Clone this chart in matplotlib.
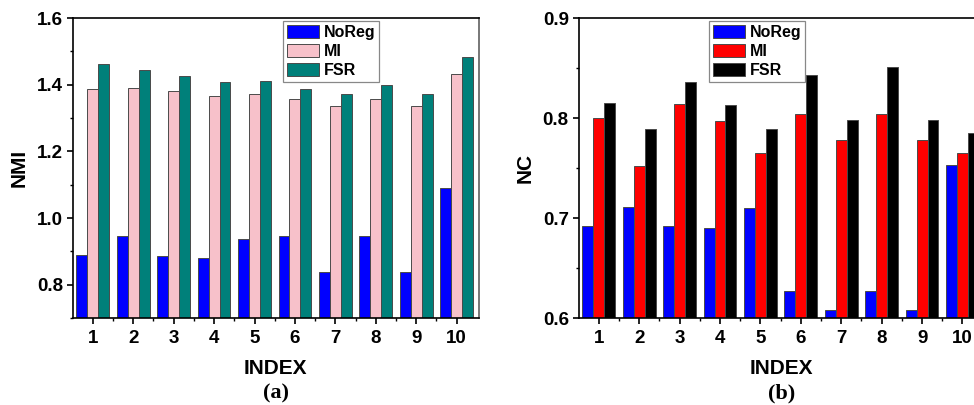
import numpy as np
import matplotlib
matplotlib.use("Agg")
import matplotlib.pyplot as plt
import matplotlib.ticker as ticker

# values
index = [1, 2, 3, 4, 5, 6, 7, 8, 9, 10]
series = ["NoReg", "MI", "FSR"]

nmi_noreg = [0.888, 0.945, 0.885, 0.880, 0.937, 0.947, 0.837, 0.947, 0.837, 1.089]
nmi_mi = [1.386, 1.389, 1.381, 1.365, 1.372, 1.357, 1.335, 1.357, 1.335, 1.433]
nmi_fsr = [1.462, 1.445, 1.426, 1.407, 1.410, 1.386, 1.373, 1.399, 1.373, 1.482]

nc_noreg = [0.692, 0.711, 0.692, 0.690, 0.710, 0.627, 0.608, 0.627, 0.608, 0.753]
nc_mi = [0.800, 0.752, 0.814, 0.797, 0.765, 0.804, 0.778, 0.804, 0.778, 0.765]
nc_fsr = [0.815, 0.789, 0.836, 0.813, 0.789, 0.843, 0.798, 0.851, 0.798, 0.785]

plt.rcParams.update({
    'font.family': ['Liberation Sans', 'DejaVu Sans'],
    'font.weight': 'bold',
    'axes.labelweight': 'bold',
    'xtick.labelsize': 13.5,
    'ytick.labelsize': 13.5,
    'axes.labelsize': 15,
    'axes.linewidth': 1.2,
})

fig = plt.figure(figsize=(9.74, 4.05), dpi=100)
ax1 = fig.add_axes([0.0746, 0.2148, 0.417, 0.7407])
ax2 = fig.add_axes([0.594, 0.2148, 0.417, 0.7407])

x = np.array(index)
w = 0.27


def draw(ax, vals, colors, ylim, major, minor, ylabel, legx, tag):
	for k in range(3):
		ax.bar(x + (k - 1) * w, vals[k], w, color=colors[k], edgecolor='#4a4a4a',
			linewidth=0.7, label=series[k], zorder=2)
	ax.set_xlim(0.5, 10.55)
	ax.set_ylim(*ylim)
	ax.set_xticks(index)
	ax.xaxis.set_minor_locator(ticker.FixedLocator(x[:-1] + 0.5))
	ax.yaxis.set_major_locator(ticker.MultipleLocator(major))
	ax.yaxis.set_minor_locator(ticker.MultipleLocator(minor))
	ax.yaxis.set_major_formatter(ticker.FormatStrFormatter('%.1f'))
	ax.tick_params(which='major', direction='out', length=4, width=1.2, pad=4.5)
	ax.tick_params(which='minor', direction='out', length=2.5, width=1.0)
	ax.tick_params(axis='y', which='major', pad=3)
	ax.set_xlabel("INDEX", labelpad=9)
	ax.set_ylabel(ylabel, labelpad=6)
	ax.spines['right'].set_color('#606060')
	leg = ax.legend(loc='upper left', bbox_to_anchor=(legx, 0.99), borderaxespad=0,
		fancybox=False, edgecolor='#888888', framealpha=1,
		prop={'weight': 'bold', 'size': 11.5},
		handlelength=2.0, handleheight=0.8, handletextpad=0.3,
		labelspacing=0.25, borderpad=0.25)
	leg.get_frame().set_linewidth(0.9)
	ax.text(0.5, -0.25, tag, transform=ax.transAxes, ha='center', va='center',
		fontsize=16, fontweight='bold', family=['Liberation Serif', 'DejaVu Serif'])


draw(ax1, [nmi_noreg, nmi_mi, nmi_fsr], ['#0000FF', '#F7C1CA', '#00807A'],
	(0.7, 1.6), 0.2, 0.1, "NMI", 0.518, "(a)")
draw(ax2, [nc_noreg, nc_mi, nc_fsr], ['#0000FF', '#FF0000', '#000000'],
	(0.6, 0.9), 0.1, 0.05, "NC", 0.321, "(b)")

fig.savefig("out.png", dpi=100)
